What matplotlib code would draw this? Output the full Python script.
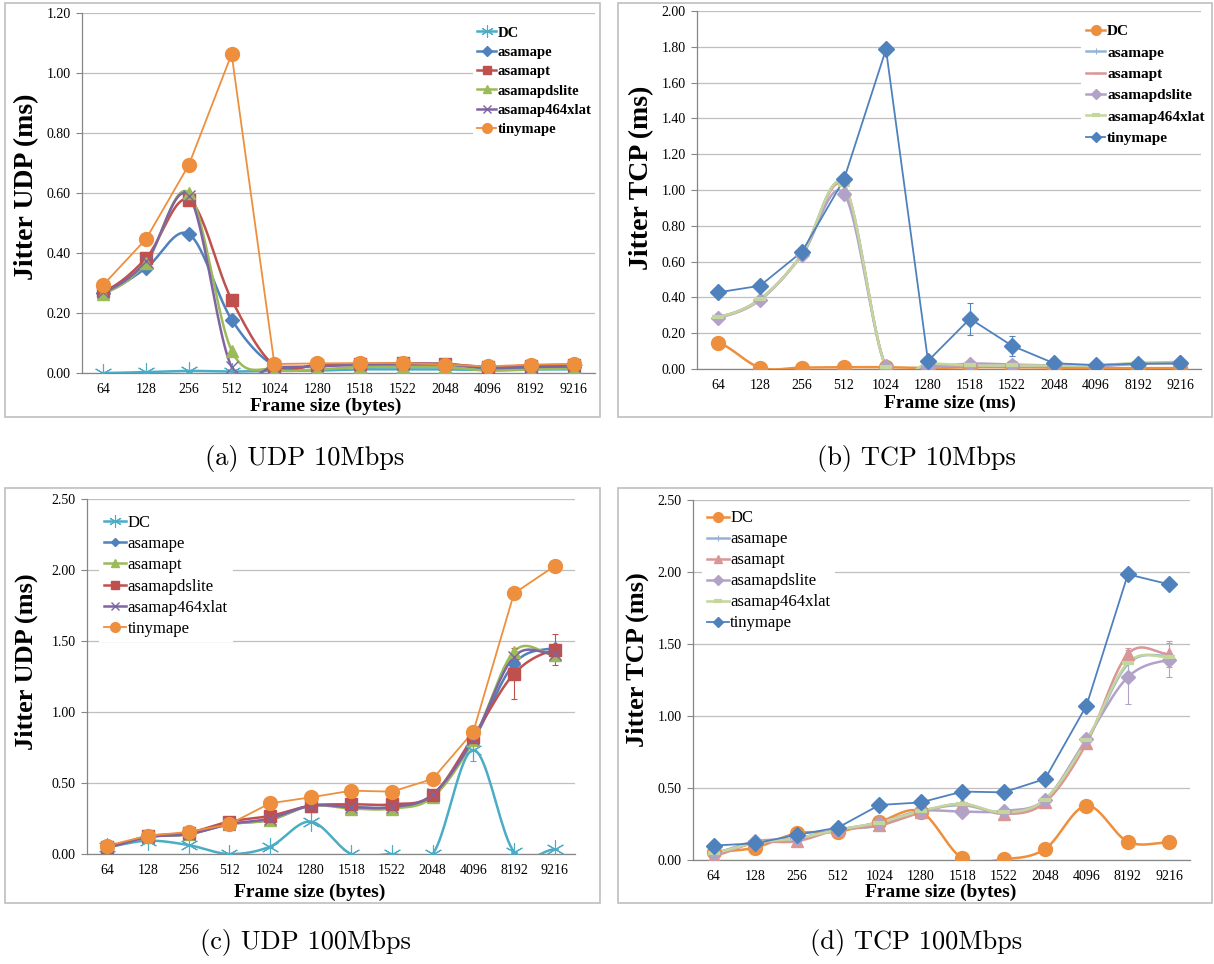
import numpy as np
import matplotlib
matplotlib.use("Agg")
import matplotlib.pyplot as plt
from matplotlib.lines import Line2D
from matplotlib.patches import Rectangle

plt.rcParams['font.family'] = ['Liberation Serif', 'DejaVu Serif']

frames = ['64', '128', '256', '512', '1024', '1280', '1518', '1522', '2048', '4096', '8192', '9216']

# (a) UDP 10Mbps
a_dc = [0.000, 0.003, 0.007, 0.005, 0.007, 0.008, 0.012, 0.012, 0.012, 0.010, 0.012, 0.012]
a_asamape = [0.267, 0.350, 0.463, 0.178, 0.025, 0.025, 0.028, 0.028, 0.027, 0.015, 0.018, 0.020]
a_asamapt = [0.272, 0.383, 0.578, 0.244, 0.025, 0.028, 0.030, 0.032, 0.030, 0.020, 0.025, 0.028]
a_dslite = [0.265, 0.368, 0.600, 0.075, 0.012, 0.012, 0.020, 0.020, 0.020, 0.008, 0.012, 0.015]
a_464xlat = [0.270, 0.372, 0.590, 0.020, 0.020, 0.022, 0.028, 0.030, 0.030, 0.018, 0.020, 0.022]
a_tiny = [0.294, 0.447, 0.694, 1.063, 0.030, 0.032, 0.033, 0.033, 0.028, 0.022, 0.028, 0.030]

# (b) TCP 10Mbps
b_dc = [0.147, 0.008, 0.008, 0.010, 0.010, 0.005, 0.010, 0.010, 0.008, 0.005, 0.005, 0.005]
b_asamape = [0.290, 0.390, 0.640, 1.030, 0.010, 0.020, 0.020, 0.020, 0.020, 0.020, 0.030, 0.030]
b_asamapt = [0.290, 0.390, 0.640, 1.020, 0.010, 0.020, 0.020, 0.020, 0.020, 0.020, 0.030, 0.035]
b_dslite = [0.287, 0.385, 0.636, 0.980, 0.015, 0.010, 0.030, 0.025, 0.020, 0.015, 0.030, 0.040]
b_464xlat = [0.290, 0.390, 0.640, 1.030, 0.010, 0.030, 0.020, 0.020, 0.020, 0.020, 0.035, 0.035]
b_tiny = [0.428, 0.465, 0.655, 1.060, 1.786, 0.045, 0.281, 0.130, 0.032, 0.022, 0.030, 0.032]
b_tiny_err = [0, 0, 0, 0, 0, 0, 0.09, 0.055, 0, 0, 0, 0]

# (c) UDP 100Mbps
c_dc = [0.052, 0.094, 0.063, 0.000, 0.052, 0.228, 0.000, 0.000, 0.000, 0.733, 0.016, 0.033]
c_asamape = [0.050, 0.120, 0.140, 0.210, 0.240, 0.340, 0.330, 0.330, 0.410, 0.800, 1.340, 1.450]
c_asamapt = [0.050, 0.120, 0.140, 0.210, 0.240, 0.340, 0.320, 0.320, 0.400, 0.800, 1.426, 1.400]
c_dslite = [0.050, 0.125, 0.150, 0.228, 0.268, 0.340, 0.350, 0.350, 0.416, 0.827, 1.269, 1.438]
c_464xlat = [0.050, 0.120, 0.140, 0.210, 0.250, 0.340, 0.330, 0.330, 0.420, 0.810, 1.390, 1.410]
c_tiny = [0.059, 0.129, 0.155, 0.210, 0.357, 0.399, 0.446, 0.439, 0.529, 0.862, 1.835, 2.028]
c_dslite_err = [0, 0, 0, 0, 0, 0, 0, 0, 0, 0, 0.18, 0.11]
c_dc_err = [0, 0, 0, 0, 0, 0, 0, 0, 0, 0.08, 0, 0]

# (d) TCP 100Mbps
d_dc = [0.058, 0.086, 0.185, 0.197, 0.266, 0.335, 0.012, 0.005, 0.076, 0.377, 0.127, 0.123]
d_asamape = [0.050, 0.120, 0.150, 0.210, 0.240, 0.340, 0.380, 0.330, 0.410, 0.820, 1.360, 1.420]
d_asamapt = [0.030, 0.120, 0.130, 0.210, 0.240, 0.330, 0.390, 0.320, 0.400, 0.810, 1.430, 1.430]
d_dslite = [0.050, 0.130, 0.150, 0.210, 0.260, 0.340, 0.336, 0.340, 0.420, 0.840, 1.270, 1.390]
d_464xlat = [0.050, 0.120, 0.150, 0.210, 0.260, 0.340, 0.390, 0.330, 0.420, 0.830, 1.370, 1.410]
d_tiny = [0.100, 0.116, 0.174, 0.225, 0.382, 0.400, 0.475, 0.470, 0.563, 1.072, 1.984, 1.914]
d_dslite_err = [0, 0, 0, 0, 0, 0, 0, 0, 0, 0, 0.19, 0.12]
d_asamapt_err = [0, 0, 0, 0, 0, 0, 0, 0, 0, 0, 0.04, 0.09]

CYAN, BLUE, RED, GREEN, PURPLE, ORANGE = '#4BACC6', '#4F81BD', '#C0504D', '#9BBB59', '#8064A2', '#EE8F3E'
LBLUE, LRED, LPURP, LGREEN = '#95B3D7', '#D99694', '#B3A2C7', '#C3D69B'
STAR = (6, 2, 0)


def smooth(y, n=24):
    # catmull-rom through the points, like Excel "smoothed line"
    y = np.asarray(y, dtype=float)
    p = np.concatenate([[y[0]], y, [y[-1]]])
    xs, ys = [], []
    t = np.linspace(0, 1, n, endpoint=False)
    for i in range(len(y) - 1):
        p0, p1, p2, p3 = p[i], p[i + 1], p[i + 2], p[i + 3]
        yy = 0.5 * (2 * p1 + (p2 - p0) * t + (2 * p0 - 5 * p1 + 4 * p2 - p3) * t ** 2
                    + (-p0 + 3 * p1 - 3 * p2 + p3) * t ** 3)
        xs.append(i + t)
        ys.append(yy)
    xs.append([len(y) - 1])
    ys.append([y[-1]])
    return np.concatenate(xs), np.concatenate(ys)


def draw(ax, series, errs):
    x = np.arange(len(frames))
    handles = []
    for name, y, st in series:
        if st.get('smooth', True):
            sx, sy = smooth(y)
        else:
            sx, sy = x, y
        ax.plot(sx, sy, color=st['c'], lw=st.get('lw', 1.8), zorder=3)
        mk = dict(marker=st['m'], ms=st['ms'], mfc=st['c'], mec=st['c'], mew=st.get('mew', 1.0))
        ax.plot(x, y, ls='none', color=st['c'], zorder=4, **mk)
        if name in errs:
            ax.errorbar(x, y, yerr=errs[name], fmt='none', ecolor=st['c'], elinewidth=0.8,
                        capsize=2, capthick=0.8, zorder=3)
        handles.append(Line2D([], [], color=st['c'], lw=st.get('lw', 1.8), **mk))
    return handles


def style(ax, ymax, ystep):
    ax.set_xlim(-0.5, len(frames) - 0.5)
    ax.set_ylim(0, ymax)
    ax.set_yticks(np.arange(0, ymax + 1e-9, ystep))
    ax.yaxis.set_major_formatter(matplotlib.ticker.FormatStrFormatter('%.2f'))
    ax.set_xticks(np.arange(len(frames)))
    ax.set_xticklabels(frames)
    ax.grid(axis='y', color='#BFBFBF', lw=0.9, zorder=0)
    ax.set_axisbelow(True)
    for s in ['top', 'right']:
        ax.spines[s].set_visible(False)
    for s in ['left', 'bottom']:
        ax.spines[s].set_color('#868686')
        ax.spines[s].set_linewidth(0.9)
    ax.tick_params(axis='x', length=0, pad=7, labelsize=10)
    ax.tick_params(axis='y', length=4, color='#868686', pad=4, labelsize=10)


def legend(ax, h, anchor, size, bold, spacing):
    prop = dict(size=size, weight='bold' if bold else 'normal')
    ax.legend(h, ['DC', 'asamape', 'asamapt', 'asamapdslite', 'asamap464xlat', 'tinymape'],
              loc='upper left', bbox_to_anchor=anchor, frameon=True, facecolor='white',
              edgecolor='none', framealpha=1, fancybox=False, borderpad=0.3, borderaxespad=0,
              prop=prop, labelspacing=spacing, handlelength=1.3, handletextpad=0.1,
              markerscale=0.7)


W, H = 1214, 964
fig = plt.figure(figsize=(W / 100, H / 100), dpi=100)


def add_axes(l, t, r, b):
    return fig.add_axes([l / W, 1 - b / H, (r - l) / W, (b - t) / H])


def box(l, t, r, b):
    fig.add_artist(Rectangle((l / W, 1 - b / H), (r - l) / W, (b - t) / H, transform=fig.transFigure,
                             fill=False, edgecolor='#BFBFBF', lw=1.2))


def labels(ax, xl, yl, xc, yc, bounds, ysize):
    l, t, r, b = bounds
    ax.text((xc[0] - l) / (r - l), (b - xc[1]) / (b - t), xl, transform=ax.transAxes, ha='center',
            va='center', fontsize=14, fontweight='bold')
    ax.text((yc[0] - l) / (r - l), (b - yc[1]) / (b - t), yl, transform=ax.transAxes, ha='center',
            va='center', fontsize=ysize, fontweight='bold', rotation=90)


# panel (a)
box(5, 3, 600, 417)
ba = (82, 13, 595, 373)
ax = add_axes(*ba)
style(ax, 1.2, 0.2)
h = draw(ax, [
    ('DC', a_dc, dict(c=CYAN, m=STAR, ms=13, mew=0.8)),
    ('asamape', a_asamape, dict(c=BLUE, m='D', ms=7)),
    ('asamapt', a_asamapt, dict(c=RED, m='s', ms=9)),
    ('asamapdslite', a_dslite, dict(c=GREEN, m='^', ms=9)),
    ('asamap464xlat', a_464xlat, dict(c=PURPLE, m='x', ms=9, mew=1.0)),
    ('tinymape', a_tiny, dict(c=ORANGE, m='o', ms=10, smooth=False, lw=1.3)),
], {})
legend(ax, h, (0.762, 0.975), 10.5, True, 0.42)
labels(ax, 'Frame size (bytes)', 'Jitter UDP (ms)', (326, 406), (27, 187), ba, 20)

# panel (b)
box(618, 3, 1212, 417)
bb = (697, 11, 1201, 369)
ax = add_axes(*bb)
style(ax, 2.0, 0.2)
h = draw(ax, [
    ('DC', b_dc, dict(c=ORANGE, m='o', ms=10)),
    ('asamape', b_asamape, dict(c=LBLUE, m='+', ms=6, mew=0.8)),
    ('asamapt', b_asamapt, dict(c=LRED, m='_', ms=5, mew=1.0)),
    ('asamapdslite', b_dslite, dict(c=LPURP, m='D', ms=7)),
    ('asamap464xlat', b_464xlat, dict(c=LGREEN, m='_', ms=8, mew=3)),
    ('tinymape', b_tiny, dict(c=BLUE, m='D', ms=8, smooth=False, lw=1.3)),
], {'tinymape': b_tiny_err})
legend(ax, h, (0.762, 0.975), 11, True, 0.5)
labels(ax, 'Frame size (ms)', 'Jitter TCP (ms)', (950, 403), (642, 178), bb, 20)

# panel (c)
box(5, 488, 600, 903)
bc = (87, 499, 575, 854)
ax = add_axes(*bc)
style(ax, 2.5, 0.5)
h = draw(ax, [
    ('DC', c_dc, dict(c=CYAN, m=STAR, ms=13, mew=0.8)),
    ('asamape', c_asamape, dict(c=BLUE, m='D', ms=6)),
    ('asamapt', c_asamapt, dict(c=GREEN, m='^', ms=9)),
    ('asamapdslite', c_dslite, dict(c=RED, m='s', ms=9)),
    ('asamap464xlat', c_464xlat, dict(c=PURPLE, m='x', ms=9, mew=1.0)),
    ('tinymape', c_tiny, dict(c=ORANGE, m='o', ms=10, smooth=False, lw=1.3)),
], {'asamapdslite': c_dslite_err, 'DC': c_dc_err})
legend(ax, h, (0.025, 0.97), 12, False, 0.32)
labels(ax, 'Frame size (bytes)', 'Jitter UDP (ms)', (310, 892), (26, 662), bc, 19)

# panel (d)
box(618, 488, 1212, 903)
bd = (693, 500, 1190, 860)
ax = add_axes(*bd)
style(ax, 2.5, 0.5)
h = draw(ax, [
    ('DC', d_dc, dict(c=ORANGE, m='o', ms=10)),
    ('asamape', d_asamape, dict(c=LBLUE, m='+', ms=7, mew=0.8)),
    ('asamapt', d_asamapt, dict(c=LRED, m='^', ms=8)),
    ('asamapdslite', d_dslite, dict(c=LPURP, m='D', ms=7)),
    ('asamap464xlat', d_464xlat, dict(c=LGREEN, m='_', ms=8, mew=3)),
    ('tinymape', d_tiny, dict(c=BLUE, m='D', ms=8, smooth=False, lw=1.3)),
], {'asamapdslite': d_dslite_err, 'asamapt': d_asamapt_err})
legend(ax, h, (0.018, 0.985), 12, False, 0.3)
labels(ax, 'Frame size (bytes)', 'Jitter TCP (ms)', (941, 892), (637, 660), bd, 19)

# captions
for x, y, s in [(305, 459, '(a) UDP 10Mbps'), (916, 459, '(b) TCP 10Mbps'),
                (305, 943, '(c) UDP 100Mbps'), (916, 943, '(d) TCP 100Mbps')]:
    fig.text(x / W, 1 - y / H, s, ha='center', va='center', fontsize=19, family='cmr10')

fig.savefig('out.png', dpi=100)
